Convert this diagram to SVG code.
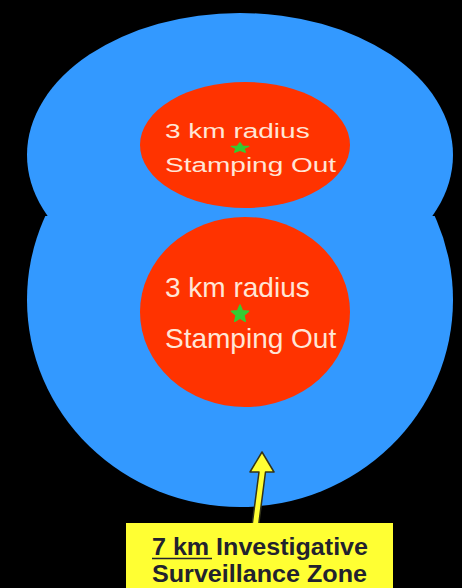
<svg xmlns="http://www.w3.org/2000/svg" width="462" height="588" viewBox="0 0 462 588">
  <defs>
    <style>
      .zone7 { fill: #3399FF; }
      .zone3 { fill: #FF3300; }
      .lbl { font-family: "Liberation Sans", Arial, sans-serif; font-size: 28px; fill: #FFE6D6; }
      .star { fill: #33CC33; }
      .box { fill: #FFFF33; }
      .boxtxt { font-family: "Liberation Sans", Arial, sans-serif; font-weight: bold; font-size: 24px; fill: #22222E; }
    </style>
    <clipPath id="clipTop"><rect x="0" y="0" width="462" height="216"/></clipPath>
    <clipPath id="clipBottom"><rect x="0" y="216" width="462" height="372"/></clipPath>
    <polygon id="starShape" points="0,-9 2.4,-3.3 8.6,-2.8 3.9,1.3 5.3,7.3 0,4.1 -5.3,7.3 -3.9,1.3 -8.6,-2.8 -2.4,-3.3" stroke="#33CC33" stroke-width="1.5" stroke-linejoin="round"/>
  </defs>
  <rect x="0" y="0" width="462" height="588" fill="#000"/>

  <g id="upper-panel" clip-path="url(#clipTop)">
    <ellipse class="zone7" cx="240" cy="155" rx="213" ry="142"/>
    <ellipse class="zone3" cx="245" cy="145" rx="105" ry="63"/>
    <text class="lbl" transform="matrix(1 0 0 0.75 165 138)">3 km radius</text>
    <use href="#starShape" class="star" transform="translate(240 148) scale(1 0.6)"/>
    <text class="lbl" transform="matrix(1 0 0 0.75 165 172)">Stamping Out</text>
  </g>

  <g id="lower-panel" clip-path="url(#clipBottom)">
    <ellipse class="zone7" cx="240" cy="300" rx="213" ry="207"/>
    <ellipse class="zone3" cx="245" cy="312" rx="105" ry="95"/>
    <text class="lbl" x="165" y="297">3 km radius</text>
    <use href="#starShape" class="star" transform="translate(240 314)"/>
    <text class="lbl" x="165" y="348">Stamping Out</text>
  </g>

  <g id="connectors">
    <polygon points="262,452 274,472 265.5,472 258.5,526 252,526 259,472 250,472" fill="#FFFF33" stroke="#33331A" stroke-width="1.5" stroke-linejoin="round"/>
  </g>

  <g id="label-7km">
    <rect class="box" x="126" y="523" width="267" height="70"/>
    <text class="boxtxt" x="152" y="555" textLength="216" lengthAdjust="spacingAndGlyphs">7 km Investigative</text>
    <line x1="152" y1="558.5" x2="212" y2="558.5" stroke="#22222E" stroke-width="1.6"/>
    <text class="boxtxt" x="152" y="582" textLength="215" lengthAdjust="spacingAndGlyphs">Surveillance Zone</text>
  </g>
</svg>
